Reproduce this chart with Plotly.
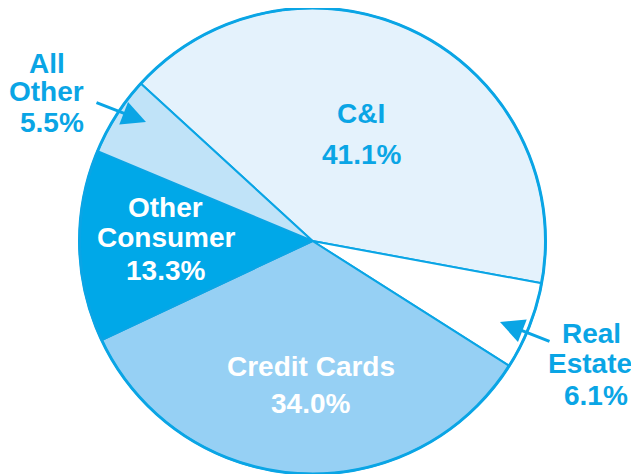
import plotly.graph_objects as go

# ---- data ----
labels = ["C&I", "Real Estate", "Credit Cards", "Other Consumer", "All Other"]
values = [41.1, 6.1, 34.0, 13.3, 5.5]

# ---- styles ----
fill_colors = ["#E4F2FC", "#FFFFFF", "#96D0F4", "#00A8E8", "#C0E3F8"]
line_color = "#0AA5E5"
text_blue = "#0AA5E5"
OFF = 8                      # page body margin offset
W, H = 639 - OFF, 474 - OFF
FONT = "Liberation Sans, Arial, sans-serif"
FS = 28


def px(sx):
    return (sx - OFF) / W


def py(sy):
    return 1 - (sy - OFF) / H


fig = go.Figure()
fig.add_trace(go.Pie(
    labels=labels,
    values=values,
    sort=False,
    direction="clockwise",
    rotation=312.5,
    marker=dict(colors=fill_colors, line=dict(color=line_color, width=2)),
    textinfo="none",
    hoverinfo="label+percent",
    domain=dict(x=[px(79.5), px(545.5)], y=[0, 1]),
    showlegend=False,
))

# thicker outer rim
fig.add_shape(type="circle", xref="paper", yref="paper",
              x0=px(79.5), x1=px(545.5), y0=0, y1=1,
              line=dict(color=line_color, width=3), fillcolor="rgba(0,0,0,0)")


def pct(v):
    return f"{v:.1f}%"


# label lines: (text, x_center_px, baseline_px, color)
lines = [
    ("C&I", 361, 124, text_blue),
    (pct(values[0]), 361, 164, text_blue),
    ("Other", 165, 217, "white"),
    ("Consumer", 166, 247, "white"),
    (pct(values[3]), 165, 280, "white"),
    ("Credit Cards", 311, 376, "white"),
    (pct(values[2]), 310, 413, "white"),
    ("All", 47, 73, text_blue),
    ("Other", 46, 102, text_blue),
    (pct(values[4]), 52, 132, text_blue),
    ("Real", 591, 343, text_blue),
    ("Estate", 590, 373, text_blue),
    (pct(values[1]), 596, 405, text_blue),
]
for txt, xc, base, col in lines:
    fig.add_annotation(
        text=f"<b>{txt}</b>", xref="paper", yref="paper",
        x=px(xc), y=py(base - 10), xanchor="center", yanchor="middle",
        showarrow=False, font=dict(family=FONT, size=FS, color=col),
    )

# arrows: (tail_x, tail_y, tip_x, tip_y)
arrows = [(95, 102, 146, 122), (551, 342, 500, 322)]
for tx, ty, hx, hy in arrows:
    fig.add_annotation(
        x=px(hx), y=py(hy), ax=tx - hx, ay=ty - hy,
        xref="paper", yref="paper", axref="pixel", ayref="pixel",
        text="", showarrow=True, arrowhead=2, arrowsize=1.6, arrowwidth=3,
        arrowcolor=text_blue,
    )

fig.update_layout(
    width=W, height=H,
    margin=dict(l=0, r=0, t=0, b=0),
    paper_bgcolor="white", plot_bgcolor="white",
)

fig.write_html("out.html")
